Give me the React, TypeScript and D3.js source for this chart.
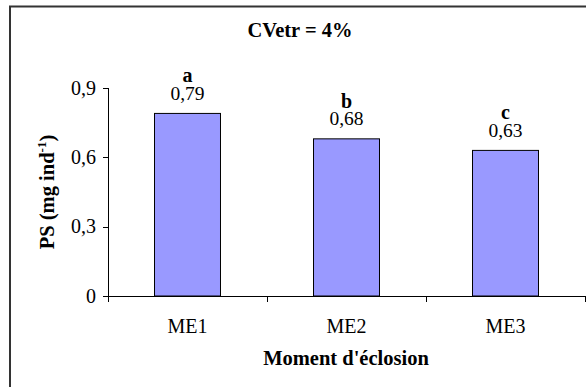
import React from "react";
import * as d3 from "d3";

const categories = ["ME1", "ME2", "ME3"];
const values = [0.79, 0.68, 0.63];
const letters = ["a", "b", "c"];
const yTicks = [0, 0.3, 0.6, 0.9];
const title = "CVetr = 4%";
const xTitle = "Moment d'éclosion";

const W = 586;
const H = 387;
const FONT = '"Liberation Serif", "Times New Roman", Tinos, "DejaVu Serif", serif';

export default function App() {
  const x = d3.scaleBand<string>().domain(categories).range([108, 585]).padding(0);
  const y = d3.scaleLinear().domain([0, 0.9]).range([296, 88]);
  const barW = x.bandwidth() * 0.415;
  const fmt = (v: number) => (v === 0 ? "0" : d3.format(".1f")(v).replace(".", ","));
  const fmt2 = (v: number) => d3.format(".2f")(v).replace(".", ",");
  const xTickPos = [...categories.map((c) => x(c) as number), 585];

  return (
    <svg
      width={W}
      height={H}
      style={{ position: "absolute", left: 0, top: 0, background: "#fff", fontFamily: FONT }}
    >
      <rect x={10} y={6.5} width={W} height={H} fill="#fff" stroke="#333" strokeWidth={2} />
      <text x={300} y={37} textAnchor="middle" fontWeight="bold" fontSize={20.5} fill="#000">
        {title}
      </text>
      {values.map((v, i) => {
        const cx = (x(categories[i]) as number) + x.bandwidth() / 2;
        return (
          <g key={i}>
            <rect
              x={cx - barW / 2}
              y={y(v)}
              width={barW}
              height={y(0) - y(v)}
              fill="#9999FF"
              stroke="#000"
              strokeWidth={1}
            />
            <text x={cx} y={y(v) - 13.5} textAnchor="middle" fontSize={19.5} fill="#000">
              {fmt2(v)}
            </text>
            <text x={cx} y={y(v) - 31} textAnchor="middle" fontSize={20} fontWeight="bold" fill="#000">
              {letters[i]}
            </text>
          </g>
        );
      })}
      <line x1={108.5} x2={108.5} y1={y(0.9)} y2={y(0) + 5} stroke="#000" />
      {yTicks.map((t) => (
        <g key={t}>
          <line x1={103} x2={108.5} y1={Math.round(y(t)) + 0.5} y2={Math.round(y(t)) + 0.5} stroke="#000" />
          <text x={96} y={y(t) + 6.5} textAnchor="end" fontSize={20} fill="#000">
            {fmt(t)}
          </text>
        </g>
      ))}
      <line x1={103} x2={586} y1={296.5} y2={296.5} stroke="#000" />
      {xTickPos.map((p, i) => (
        <line key={i} x1={Math.round(p) + 0.5} x2={Math.round(p) + 0.5} y1={296.5} y2={302} stroke="#000" />
      ))}
      {categories.map((c) => (
        <text
          key={c}
          x={(x(c) as number) + x.bandwidth() / 2}
          y={333}
          textAnchor="middle"
          fontSize={20}
          fill="#000"
        >
          {c}
        </text>
      ))}
      <text x={346} y={365} textAnchor="middle" fontWeight="bold" fontSize={20.5} fill="#000">
        {xTitle}
      </text>
      <text
        transform="translate(54,192) rotate(-90)"
        textAnchor="middle"
        fontWeight="bold"
        fontSize={20.5}
        fill="#000"
      >
        PS (mg ind
        <tspan fontSize={13} dy={-8}>-1</tspan>
        <tspan dy={8}>)</tspan>
      </text>
    </svg>
  );
}
